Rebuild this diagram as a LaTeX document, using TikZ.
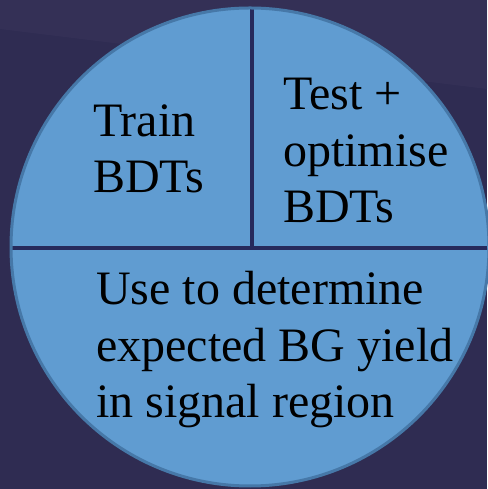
\documentclass[tikz,border=0pt]{standalone}
\usepackage{fontspec}
\setmainfont{Liberation Serif}
\definecolor{bgnavy}{RGB}{47,44,82}
\definecolor{bglight}{RGB}{62,57,96}
\definecolor{piefill}{RGB}{96,156,209}
\definecolor{pieedge}{RGB}{70,120,168}
\definecolor{divider}{RGB}{38,42,92}
\tikzset{
  pielabel/.style={inner sep=0pt, anchor=base west, align=left, text=black,
    font=\fontsize{48}{56.5}\selectfont},
  divline/.style={draw=divider, line width=4pt},
}
\begin{document}
\begin{tikzpicture}[x=1pt,y=1pt]
  % page and background
  \useasboundingbox (0,0) rectangle (487,489);
  \fill[bgnavy] (0,0) rectangle (487,489);
  \fill[bglight, opacity=0.35] (0,489) -- (487,489) -- (487,400) -- (0,460) -- cycle;
  % the pie
  \coordinate (c) at (250,242);
  \fill[piefill] (c) circle[radius=239];
  \begin{scope}
    \clip (c) circle[radius=239];
    \coordinate (hl) at (0,241);
    \coordinate (hr) at (487,241);
    \coordinate (vt) at (252,489);
    \coordinate (vb) at (252,241);
    \draw[divline] (hl) -- (hr);
    \draw[divline] (vt) -- (vb);
  \end{scope}
  \draw[pieedge, line width=3pt] (c) circle[radius=239];
  % labels (anchored at the baseline of their last line)
  \node[pielabel] (train) at (93,296) {Train\\BDTs};
  \node[pielabel] (test) at (283,266) {Test +\\optimise\\BDTs};
  \node[pielabel] (use) at (96,71) {Use to determine\\expected BG yield\\in signal region};
\end{tikzpicture}
\end{document}
